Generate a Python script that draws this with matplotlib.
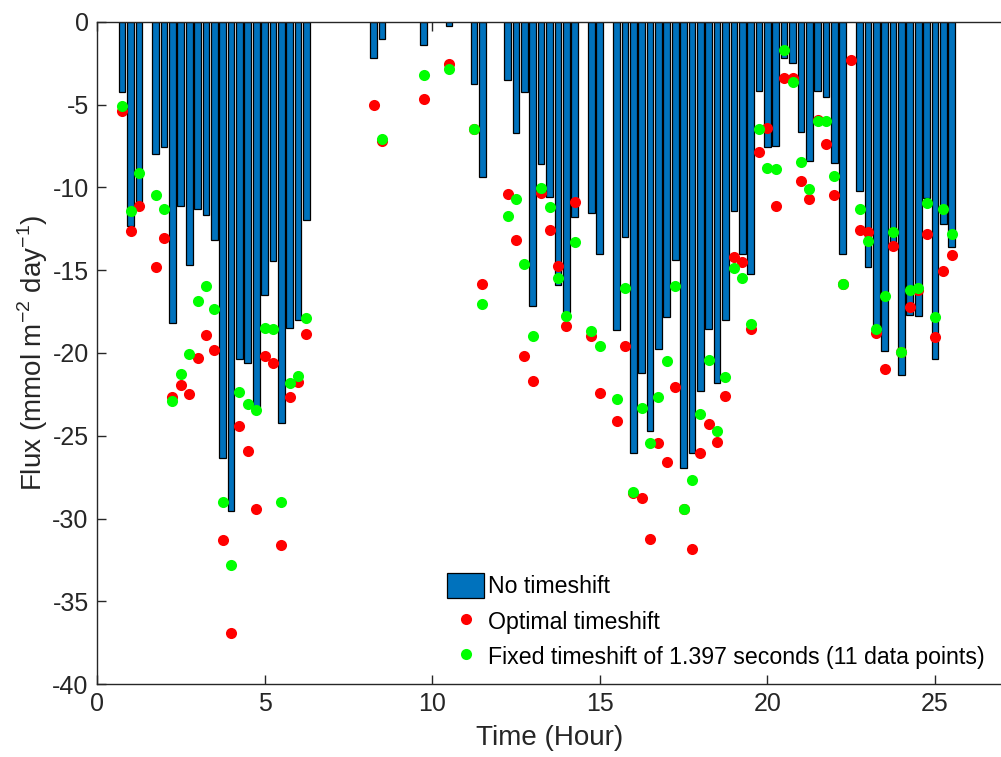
import numpy as np
import matplotlib
matplotlib.use("Agg")
import matplotlib.pyplot as plt
from matplotlib.patches import Patch
from matplotlib.lines import Line2D

plt.rcParams["font.family"] = ["Liberation Sans", "DejaVu Sans"]
plt.rcParams["axes.unicode_minus"] = False

nan = np.nan

# Time of each flux estimate (hours)
time_h = [
    0.75, 1.0, 1.25, 1.75, 2.0, 2.25, 2.5, 2.75, 3.0, 3.25, 3.5, 3.75, 4.0,
    4.25, 4.5, 4.75, 5.0, 5.25, 5.5, 5.75, 6.0, 6.25,
    8.25, 8.5, 9.75, 10.5, 11.25, 11.5,
    12.25, 12.5, 12.75, 13.0, 13.25, 13.5, 13.75, 14.0, 14.25, 14.75, 15.0,
    15.5, 15.75, 16.0, 16.25, 16.5, 16.75, 17.0, 17.25, 17.5, 17.75, 18.0,
    18.25, 18.5, 18.75, 19.0, 19.25, 19.5, 19.75, 20.0, 20.25, 20.5, 20.75,
    21.0, 21.25, 21.5, 21.75, 22.0, 22.25, 22.5, 22.75, 23.0, 23.25, 23.5,
    23.75, 24.0, 24.25, 24.5, 24.75, 25.0, 25.25, 25.5,
]

# Flux without any timeshift (bars)
flux_no_shift = [
    -4.22, -12.31, -11.3, -7.95, -7.55, -18.19, -11.11, -14.68, -11.27, -11.67,
    -13.19, -26.35, -29.52, -20.34, -20.63, -23.25, -16.49, -14.42, -24.24,
    -18.50, -17.99, -11.97,
    -2.19, -1.05, -1.39, -0.24, -3.74, -9.36,
    -3.52, -6.73, -4.20, -17.15, -8.58, -10.57, -15.89, -17.5, -11.77, -11.53,
    -14.04, -18.60, -13.01, -26.02, -21.20, -24.72, -19.78, -17.81, -14.38,
    -26.93, -26.07, -22.31, -18.58, -21.83, -18.01, -11.45, -14.0, -15.24,
    -4.16, -7.53, -7.49, -2.17, -2.49, -6.63, -8.37, -4.18, -4.54, -8.49,
    -14.04, nan, -10.24, -14.78, -19.0, -19.88, -13.67, -21.35, -17.69, -17.77,
    -10.62, -20.34, -12.19, -13.61,
]

# Flux with the optimal timeshift (red points)
flux_optimal = [
    -5.36, -12.61, -11.13, -14.82, -13.03, -22.63, -21.91, -22.45, -20.28,
    -18.92, -19.84, -31.27, -36.89, -24.44, -25.90, -29.44, -20.20, -20.60,
    -31.63, -22.63, -21.75, -18.84,
    -5.0, -7.19, -4.68, -2.53, -6.47, -15.84,
    -10.42, -13.17, -20.16, -21.67, -10.32, -12.57, -14.72, -18.35, -10.89,
    -19.0, -22.41, -24.12, -19.56, -28.45, -28.76, -31.23, -25.46, -26.61,
    -22.05, -29.45, -31.85, -26.05, -24.30, -25.40, -22.61, -14.22, -14.52,
    -18.52, -7.83, -6.41, -11.09, -3.36, -3.36, -9.62, -10.72, -5.9, -7.35,
    -10.48, -15.85, -2.29, -12.57, -12.71, -18.80, -20.96, -13.54, -19.95,
    -17.25, -16.2, -12.83, -19.04, -15.06, -14.10,
]

# Flux with a fixed timeshift of 1.397 s (green points)
flux_fixed = [
    -5.06, -11.41, -9.10, -10.46, -11.29, -22.93, -21.27, -20.04, -16.85,
    -15.95, -17.37, -28.99, -32.79, -22.35, -23.11, -23.42, -18.46, -18.58,
    -28.99, -21.81, -21.41, -17.87,
    nan, -7.09, -3.21, -2.87, -6.47, -17.05,
    -11.71, -10.70, -14.60, -19.0, -10.06, -11.17, -15.46, -17.79, -13.31,
    -18.70, -19.60, -22.79, -16.05, -28.42, -23.30, -25.42, -22.65, -20.46,
    -15.93, -29.42, -27.67, -23.70, -20.40, -24.74, -21.47, -14.88, -15.45,
    -18.23, -6.45, -8.80, -8.88, -1.71, -3.62, -8.44, -10.10, -5.99, -5.99,
    -9.32, -15.83, nan, -11.29, -13.25, -18.56, -16.55, -12.71, -19.94,
    -16.21, -16.09, -10.93, -17.85, -11.29, -12.79,
]

bar_color = "#0072BD"
axis_color = "#262626"

fig = plt.figure(figsize=(10.01, 7.57), dpi=100)
ax = fig.add_axes([97 / 1001, 1 - 684 / 757, 905 / 1001, 662 / 757])

t = np.asarray(time_h)
nb = np.asarray(flux_no_shift)
opt = np.asarray(flux_optimal)
fix = np.asarray(flux_fixed)

ok = ~np.isnan(nb)
ax.bar(t[ok], nb[ok], width=0.2, color=bar_color, edgecolor="black",
       linewidth=0.9, zorder=2)
ax.plot(t, opt, "o", color="#FF0000", markersize=8, markeredgewidth=0,
        linestyle="none", zorder=3)
ax.plot(t, fix, "o", color="#00FF00", markersize=8, markeredgewidth=0,
        linestyle="none", zorder=4)

ax.set_xlim(0, 27)
ax.set_ylim(-40, 0)
ax.set_xticks([0, 5, 10, 15, 20, 25])
ax.set_yticks(np.arange(-40, 1, 5))

for side in ["left", "bottom", "top", "right"]:
    ax.spines[side].set_color(axis_color)
    ax.spines[side].set_linewidth(1.0)

ax.tick_params(axis="both", which="major", direction="in", length=6.5,
               width=1.0, color=axis_color, labelcolor=axis_color,
               labelsize=18, top=True, right=False, pad=6)

ax.set_xlabel("Time (Hour)", fontsize=20, color=axis_color, labelpad=6)
ax.set_ylabel("Flux (mmol m$^{\\mathregular{-2}}$ day$^{\\mathregular{-1}}$)",
              fontsize=20, color=axis_color, labelpad=2)

handles = [
    Patch(facecolor=bar_color, edgecolor="black", linewidth=0.9),
    Line2D([], [], marker="o", color="#FF0000", markersize=8,
           markeredgewidth=0, linestyle="none"),
    Line2D([], [], marker="o", color="#00FF00", markersize=8,
           markeredgewidth=0, linestyle="none"),
]
labels = ["No timeshift", "Optimal timeshift",
          "Fixed timeshift of 1.397 seconds (11 data points)"]
fig.legend(handles, labels, loc="upper left",
           bbox_to_anchor=(447 / 1001, 1 - 573 / 757),
           frameon=False, fontsize=16.7, borderpad=0, borderaxespad=0,
           handlelength=1.6, handleheight=1.27, handletextpad=0.15,
           labelspacing=0.45)

fig.savefig("out.png", dpi=100)
